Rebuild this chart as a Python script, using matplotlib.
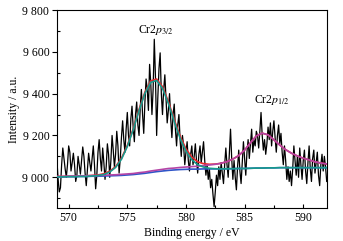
import numpy as np
import matplotlib
matplotlib.use("Agg")
import matplotlib.pyplot as plt
from matplotlib.ticker import FuncFormatter, MultipleLocator

plt.rcParams['font.family'] = ['Liberation Serif', 'DejaVu Serif']
plt.rcParams['mathtext.fontset'] = 'stix'

# measured spectrum, 0.1 eV steps from 569.0 to 592.0
energy = np.round(np.arange(569.0, 592.05, 0.1), 1)
counts = [
    9080, 8990, 8930, 8950, 9060, 9140, 9090, 9040, 9000, 9060,
    9150, 9120, 9030, 9070, 9115, 9060, 8980, 9010, 9100, 9060,
    9015, 9080, 9145, 9100, 9020, 8960, 9040, 9115, 9070, 9030,
    9090, 9150, 9060, 8945, 9010, 9120, 9180, 9090, 9030, 9140,
    9070, 8990, 9050, 9160, 9110, 9000, 9080, 9200, 9130, 9050,
    9110, 9220, 9150, 9020, 9090, 9190, 9270, 9180, 9120, 9230,
    9310, 9200, 9150, 9280, 9340, 9240, 9170, 9300, 9360, 9250,
    9200, 9330, 9420, 9300, 9210, 9360, 9470, 9420, 9320, 9540,
    9450, 9300, 9420, 9660, 9480, 9200, 9380, 9520, 9595, 9400,
    9300, 9420, 9490, 9380, 9260, 9320, 9400, 9280, 9190, 9300,
    9350, 9230, 9150, 9250, 9300, 9180, 9100, 9200, 9150, 9060,
    9120, 9170, 9080, 9030, 9110, 9150, 9060, 9100, 9160, 9080,
    9020, 9110, 9150, 9070, 9120, 9170, 9080, 9010, 9060, 8990,
    9040, 8950, 8990, 8920, 8860, 8930, 9010, 8960, 9050, 8990,
    9070, 9020, 8970, 9060, 9140, 9060, 9000, 9120, 9230, 9090,
    8990, 9080, 9000, 8940, 9050, 9130, 9030, 8970, 9070, 9170,
    9090, 9010, 9120, 9180, 9090, 9160, 9230, 9120, 9180, 9150,
    9220, 9200, 9140, 9220, 9310, 9200, 9130, 9180, 9110, 9160,
    9240, 9180, 9260, 9150, 9220, 9270, 9190, 9120, 9200, 9250,
    9160, 9210, 9120, 9060, 9150, 9080, 8990, 9050, 8980, 9030,
    8960, 9040, 9150, 9080, 9010, 9100, 9000, 9140, 9060, 8990,
    9080, 9130, 9030, 8970, 9070, 9150, 9040, 8980, 9090, 9130,
    9020, 9070, 9120, 9010, 8960, 9060, 9110, 9030, 9100, 9050,
    8980,
]

# fitted curves, 0.5 eV steps
fit_energy = np.arange(569.0, 592.01, 0.5)
background = [
    9002, 9002, 9003, 9003, 9004, 9004, 9005, 9005, 9006, 9007,
    9008, 9009, 9011, 9013, 9016, 9019, 9023, 9027, 9030, 9033,
    9035, 9037, 9038, 9039, 9039, 9040, 9040, 9040, 9040, 9041,
    9041, 9042, 9042, 9043, 9044, 9044, 9045, 9045, 9046, 9046,
    9046, 9046, 9046, 9046, 9046, 9046, 9046,
]
peak_3_2 = [
    0, 0, 0, 0, 0, 0, 1, 3, 7, 18,
    39, 77, 136, 214, 302, 382, 431, 436, 395, 320,
    232, 150, 87, 45, 21, 9, 3, 1, 0, 0,
    0, 0, 0, 0, 0, 0, 0, 0, 0, 0,
    0, 0, 0, 0, 0, 0, 0,
]
peak_1_2 = [
    2, 2, 2, 2, 3, 3, 3, 3, 4, 4,
    4, 5, 5, 5, 6, 6, 7, 7, 8, 9,
    9, 10, 11, 12, 14, 16, 19, 22, 27, 34,
    46, 62, 88, 122, 154, 167, 158, 134, 108, 86,
    69, 56, 45, 37, 28, 22, 18,
]

bg = np.array(background)
p1 = bg + np.array(peak_3_2)
p2 = bg + np.array(peak_1_2)
envelope = bg + np.array(peak_3_2) + np.array(peak_1_2)

fig = plt.figure(figsize=(3.43, 2.41), dpi=100)
ax = fig.add_axes([0.166, 0.136, 0.7865, 0.8225])

ax.plot(energy, counts, color='black', lw=0.9, zorder=2)
ax.plot(fit_energy, envelope, color='#e8262a', lw=1.2, zorder=3)
ax.plot(fit_energy, bg, color='#2f55c8', lw=1.2, zorder=3)
ax.plot(fit_energy, p2, color='#b444a6', lw=1.2, zorder=4)
ax.plot(fit_energy, p1, color='#17998c', lw=1.2, zorder=4)

ax.set_xlim(569.0, 592.0)
ax.set_ylim(8852, 9800)
ax.xaxis.set_major_locator(MultipleLocator(5))
ax.xaxis.set_minor_locator(MultipleLocator(2.5))
ax.yaxis.set_major_locator(MultipleLocator(200))
ax.yaxis.set_minor_locator(MultipleLocator(100))
ax.yaxis.set_major_formatter(FuncFormatter(lambda v, p: '{:,.0f}'.format(v).replace(',', ' ')))

ax.tick_params(axis='y', which='major', direction='out', length=3.5, width=0.8, labelsize=8.5, pad=2)
ax.tick_params(axis='y', which='minor', direction='in', length=2.5, width=0.8)
ax.tick_params(axis='x', which='major', direction='in', length=3, width=0.8, labelsize=8.5, pad=3)
ax.tick_params(axis='x', which='minor', direction='in', length=2.5, width=0.8)
for s in ax.spines.values():
    s.set_linewidth(0.8)

ax.set_xlabel('Binding energy / eV', fontsize=8.5, labelpad=2)
ax.set_ylabel('Intensity / a.u.', fontsize=8.5, labelpad=2)

ax.text(577.4, 9705, r'Cr2$p_{3/2}$', fontsize=8.5, ha='center', va='center')
ax.text(587.3, 9371, r'Cr2$p_{1/2}$', fontsize=8.5, ha='center', va='center')

fig.savefig('out.png', dpi=100)
